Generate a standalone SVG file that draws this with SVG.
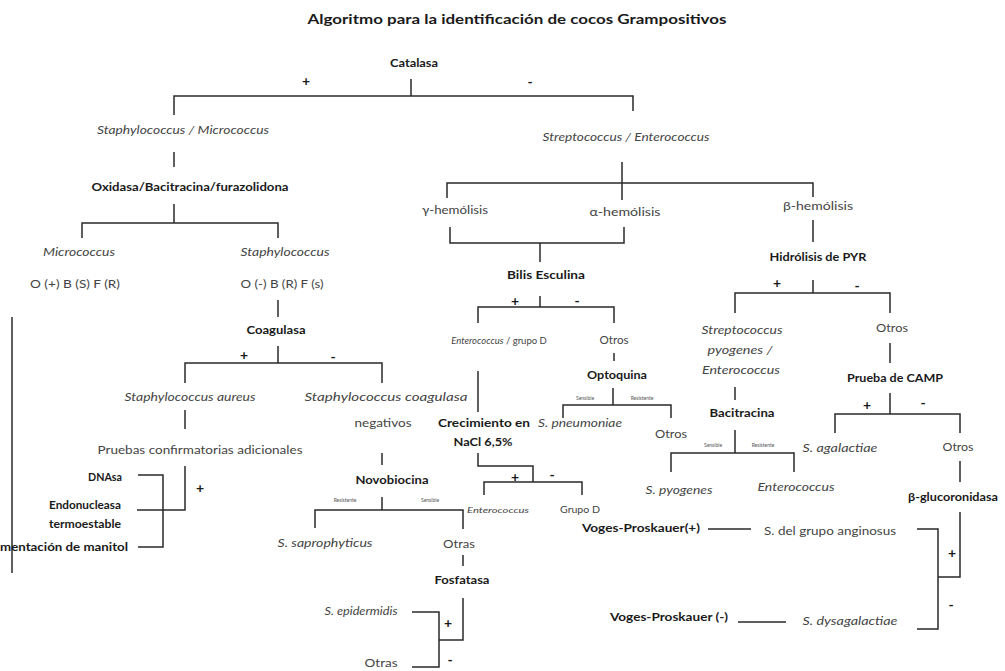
<svg xmlns="http://www.w3.org/2000/svg" width="1005" height="671" viewBox="0 0 1005 671">
<style>
text{font-family:Lato,"Liberation Sans",Arial,sans-serif;fill:#444;font-size:10.5px;text-anchor:middle}
.b{font-weight:bold;fill:#1a1a1a}
.i{font-style:italic}
.t{font-size:14px;font-weight:bold;fill:#1a1a1a}
.s{font-size:5px;fill:#555}
.m{font-size:8.5px}
.e{text-anchor:end}
.st{text-anchor:start}
.pm{font-weight:bold;fill:#1a1a1a;font-size:14px}
.c path{fill:none;stroke:#2a2a2a;stroke-width:1.5}
</style>
<rect width="1005" height="671" fill="#fff"/>
<text class="t" x="517" y="24" textLength="419" lengthAdjust="spacingAndGlyphs">Algoritmo para la identificación de cocos Grampositivos</text>
<g id="connectors" class="c">
<path d="M411,79V96M174,115V96H633V111"/>
<path d="M174,152V167"/>
<path d="M174,204V223M82,238V223H278V238"/>
<path d="M278,300V317"/>
<path d="M278,346V363M185,383V363H382V383"/>
<path d="M185,410V429"/>
<path d="M12,317V573"/>
<path d="M185,466V510H137"/>
<path d="M138,475H163V547H138"/>
<path d="M382,453V465"/>
<path d="M382,497V510M315,528V510H463V529"/>
<path d="M463,555V566"/>
<path d="M463,598V640H439M412,612H439V667H412"/>
<path d="M622,162V200M447,198V183H813V197"/>
<path d="M813,220V242"/>
<path d="M450,227V243H624V227M540,243V262"/>
<path d="M540,296V307M478,323V307H614V323"/>
<path d="M614,353V361"/>
<path d="M613,388V405M563,418V405H671V418"/>
<path d="M478,371V412"/>
<path d="M478,453V466H533V482M484,495V482H582V495"/>
<path d="M813,280V293M735,313V293H890V313"/>
<path d="M735,387V400"/>
<path d="M735,430V453M671,472V453H794V472"/>
<path d="M890,343V363"/>
<path d="M890,393V414M835,433V414H960V433"/>
<path d="M960,461V482"/>
<path d="M960,512V577H938M917,529H938V629H917"/>
<path d="M708,529H751M738,622H786"/>
</g>
<g id="signs">
<text class="pm" x="306" y="86">+</text><text class="pm" x="530" y="87">-</text>
<text class="pm" x="515" y="306">+</text><text class="pm" x="577" y="306">-</text>
<text class="pm" x="777" y="288">+</text><text class="pm" x="857" y="291">-</text>
<text class="pm" x="244" y="360">+</text><text class="pm" x="333" y="362">-</text>
<text class="pm" x="867" y="410">+</text><text class="pm" x="923" y="408">-</text>
<text class="pm" x="200" y="493">+</text>
<text class="pm" x="515" y="482">+</text><text class="pm" x="552" y="480">-</text>
<text class="pm" x="952" y="558">+</text><text class="pm" x="951" y="610">-</text>
<text class="pm" x="448" y="628">+</text><text class="pm" x="450" y="665">-</text>
</g>
<g id="catalasa"><text class="b" x="414" y="67" textLength="48" lengthAdjust="spacingAndGlyphs">Catalasa</text></g>
<g id="staph-micro"><text class="i" x="183" y="134" textLength="172" lengthAdjust="spacingAndGlyphs">Staphylococcus / Micrococcus</text></g>
<g id="strep-entero"><text class="i" x="626" y="141" textLength="167" lengthAdjust="spacingAndGlyphs">Streptococcus / Enterococcus</text></g>
<g id="oxidasa"><text class="b" x="190" y="191" textLength="197" lengthAdjust="spacingAndGlyphs">Oxidasa/Bacitracina/furazolidona</text></g>
<g id="gamma"><text x="455" y="214" textLength="66" lengthAdjust="spacingAndGlyphs">γ-hemólisis</text></g>
<g id="alfa"><text x="625" y="216" textLength="71" lengthAdjust="spacingAndGlyphs">α-hemólisis</text></g>
<g id="beta"><text x="818" y="210" textLength="70" lengthAdjust="spacingAndGlyphs">β-hemólisis</text></g>
<g id="micrococcus">
<text class="i" x="79" y="256" textLength="72" lengthAdjust="spacingAndGlyphs">Micrococcus</text>
<text x="75" y="288" textLength="90" lengthAdjust="spacingAndGlyphs">O (+) B (S) F (R)</text>
</g>
<g id="staphylococcus">
<text class="i" x="285" y="256" textLength="89" lengthAdjust="spacingAndGlyphs">Staphylococcus</text>
<text x="282" y="288" textLength="83" lengthAdjust="spacingAndGlyphs">O (-) B (R) F (s)</text>
</g>
<g id="bilis"><text class="b" x="546" y="279" textLength="78" lengthAdjust="spacingAndGlyphs">Bilis Esculina</text></g>
<g id="pyr"><text class="b" x="818" y="261" textLength="97" lengthAdjust="spacingAndGlyphs">Hidrólisis de PYR</text></g>
<g id="coagulasa"><text class="b" x="276" y="334" textLength="59" lengthAdjust="spacingAndGlyphs">Coagulasa</text></g>
<g id="entero-grupoD">
<text x="499" y="344" style="font-size:9.5px"><tspan class="i">Enterococcus</tspan> / grupo D</text>
</g>
<g id="otros-bilis"><text x="614" y="344" textLength="29" lengthAdjust="spacingAndGlyphs">Otros</text></g>
<g id="strep-pyogenes">
<text class="i" x="742" y="334" textLength="81" lengthAdjust="spacingAndGlyphs">Streptococcus</text>
<text class="i" x="740" y="354" textLength="65" lengthAdjust="spacingAndGlyphs">pyogenes /</text>
<text class="i" x="741" y="374" textLength="78" lengthAdjust="spacingAndGlyphs">Enterococcus</text>
</g>
<g id="otros-pyr"><text x="892" y="332" textLength="32" lengthAdjust="spacingAndGlyphs">Otros</text></g>
<g id="optoquina"><text class="b" x="617" y="379" textLength="60" lengthAdjust="spacingAndGlyphs">Optoquina</text>
<text class="s" x="585" y="400">Sensible</text><text class="s" x="642" y="400">Resistente</text></g>
<g id="camp"><text class="b" x="895" y="382" textLength="96" lengthAdjust="spacingAndGlyphs">Prueba de CAMP</text></g>
<g id="aureus"><text class="i" x="190" y="401" textLength="131" lengthAdjust="spacingAndGlyphs">Staphylococcus aureus</text></g>
<g id="coag-neg">
<text class="i" x="386" y="401" textLength="163" lengthAdjust="spacingAndGlyphs">Staphylococcus coagulasa</text>
<text x="383" y="427" textLength="57" lengthAdjust="spacingAndGlyphs">negativos</text>
</g>
<g id="bacitracina"><text class="b" x="742" y="417" textLength="65" lengthAdjust="spacingAndGlyphs">Bacitracina</text>
<text class="s" x="713" y="447">Sensible</text><text class="s" x="763" y="447">Resistente</text></g>
<g id="pneumoniae"><text class="i" x="580" y="427" textLength="84" lengthAdjust="spacingAndGlyphs">S. pneumoniae</text></g>
<g id="otros-opto"><text x="671" y="438" textLength="32" lengthAdjust="spacingAndGlyphs">Otros</text></g>
<g id="nacl">
<text class="b" x="484" y="427" textLength="92" lengthAdjust="spacingAndGlyphs">Crecimiento en</text>
<text class="b" x="483" y="446" textLength="59" lengthAdjust="spacingAndGlyphs">NaCl 6,5%</text>
</g>
<g id="agalactiae"><text class="i" x="840" y="452" textLength="75" lengthAdjust="spacingAndGlyphs">S. agalactiae</text></g>
<g id="otros-camp"><text x="958" y="451" textLength="31" lengthAdjust="spacingAndGlyphs">Otros</text></g>
<g id="pruebas"><text x="200" y="454" textLength="205" lengthAdjust="spacingAndGlyphs">Pruebas confirmatorias adicionales</text></g>
<g id="dnasa"><text class="b e" x="122" y="481" textLength="34" lengthAdjust="spacingAndGlyphs">DNAsa</text></g>
<g id="endonucleasa">
<text class="b e" x="121" y="509" textLength="72" lengthAdjust="spacingAndGlyphs">Endonucleasa</text>
<text class="b e" x="121" y="528" textLength="72" lengthAdjust="spacingAndGlyphs">termoestable</text>
</g>
<g id="manitol"><text class="b e" x="128" y="551" textLength="128" lengthAdjust="spacingAndGlyphs">mentación de manitol</text></g>
<g id="novobiocina"><text class="b" x="392" y="484" textLength="73" lengthAdjust="spacingAndGlyphs">Novobiocina</text>
<text class="s" x="345" y="502">Resistente</text><text class="s" x="430" y="502">Sensible</text></g>
<g id="pyogenes"><text class="i" x="679" y="494" textLength="67" lengthAdjust="spacingAndGlyphs">S. pyogenes</text></g>
<g id="enterococcus-baci"><text class="i" x="796" y="491" textLength="77" lengthAdjust="spacingAndGlyphs">Enterococcus</text></g>
<g id="glucoronidasa"><text class="b" x="953" y="501" textLength="90" lengthAdjust="spacingAndGlyphs">β-glucoronidasa</text></g>
<g id="enterococcus-nacl"><text class="i m" x="498" y="513" textLength="62" lengthAdjust="spacingAndGlyphs">Enterococcus</text></g>
<g id="grupoD"><text class="m" x="580" y="513" textLength="40" lengthAdjust="spacingAndGlyphs">Grupo D</text></g>
<g id="vp-pos"><text class="b st" x="582" y="532" textLength="118" lengthAdjust="spacingAndGlyphs">Voges-Proskauer(+)</text></g>
<g id="anginosus"><text x="830" y="535" textLength="132" lengthAdjust="spacingAndGlyphs">S. del grupo anginosus</text></g>
<g id="saprophyticus"><text class="i" x="325" y="547" textLength="95" lengthAdjust="spacingAndGlyphs">S. saprophyticus</text></g>
<g id="otras-novo"><text x="459" y="548" textLength="32" lengthAdjust="spacingAndGlyphs">Otras</text></g>
<g id="fosfatasa"><text class="b" x="462" y="584" textLength="55" lengthAdjust="spacingAndGlyphs">Fosfatasa</text></g>
<g id="epidermidis"><text class="i" x="361" y="615" textLength="73" lengthAdjust="spacingAndGlyphs">S. epidermidis</text></g>
<g id="vp-neg"><text class="b st" x="610" y="621" textLength="118" lengthAdjust="spacingAndGlyphs">Voges-Proskauer (-)</text></g>
<g id="dysagalactiae"><text class="i" x="850" y="625" textLength="95" lengthAdjust="spacingAndGlyphs">S. dysagalactiae</text></g>
<g id="otras-fosfa"><text x="381" y="667" textLength="33" lengthAdjust="spacingAndGlyphs">Otras</text></g>
</svg>
